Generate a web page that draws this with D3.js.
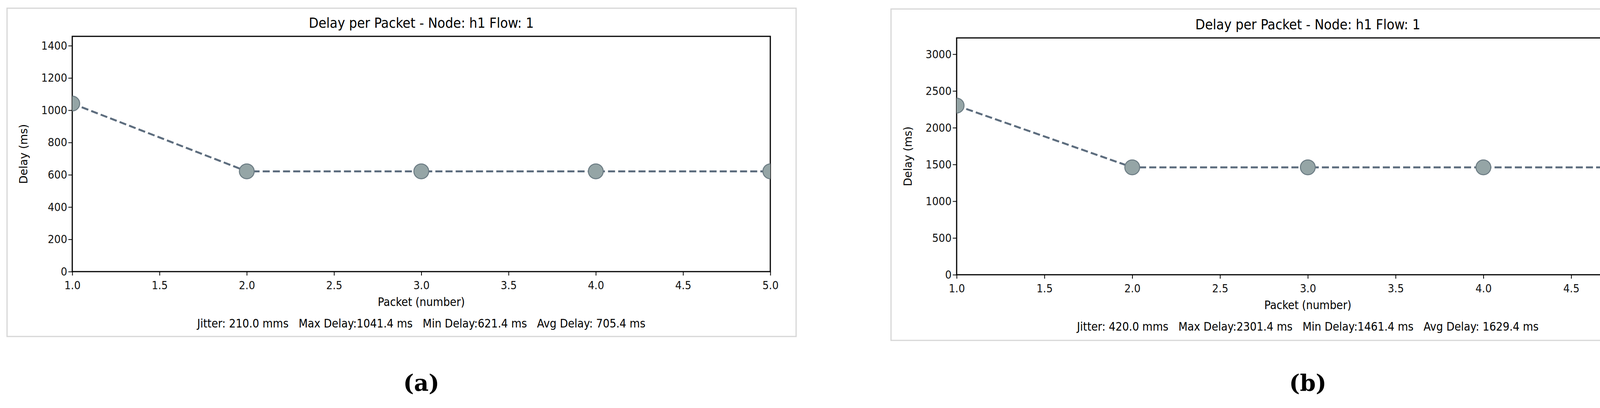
<!DOCTYPE html>
<html><head><meta charset="utf-8">
<script src="https://cdn.jsdelivr.net/npm/d3@7"></script>
<style>body{margin:0;background:#fff;overflow:hidden}text{font-family:"DejaVu Sans Condensed","DejaVu Sans",sans-serif}</style>
</head><body>
<svg width="4336" height="1044"></svg>
<script>
const packets = [1, 2, 3, 4, 5];
const delayA = [1041.4, 621.4, 621.4, 621.4, 621.4];
const delayB = [2301.4, 1461.4, 1461.4, 1461.4, 1461.4];
const ticksA = [0, 200, 400, 600, 800, 1000, 1200, 1400];
const ticksB = [0, 500, 1000, 1500, 2000, 2500, 3000];
const xTicks = [1.0, 1.5, 2.0, 2.5, 3.0, 3.5, 4.0, 4.5, 5.0];
const statsA = 'Jitter: 210.0 mms   Max Delay:1041.4 ms   Min Delay:621.4 ms   Avg Delay: 705.4 ms';
const statsB = 'Jitter: 420.0 mms   Max Delay:2301.4 ms   Min Delay:1461.4 ms   Avg Delay: 1629.4 ms';

const svg = d3.select('svg');

function panel(cfg) {
    const g = svg.append('g');
    // outer frame
    g.append('rect').attr('x', cfg.fx).attr('y', cfg.fy).attr('width', cfg.fw).attr('height', cfg.fh)
        .attr('fill', '#fff').attr('stroke', '#d6d6d6').attr('stroke-width', 3);

    const x = d3.scaleLinear().domain([1, 5]).range([cfg.l, cfg.r]);
    const y = d3.scaleLinear().domain([0, d3.max(cfg.data) * 1.4]).range([cfg.b, cfg.t]);

    const midX = (cfg.l + cfg.r) / 2;
    g.append('text').attr('x', midX).attr('y', cfg.t - 22).attr('text-anchor', 'middle')
        .attr('font-size', 36).text('Delay per Packet - Node: h1 Flow: 1');

    g.append('g').attr('transform', `translate(0,${cfg.b})`)
        .call(d3.axisBottom(x).tickValues(xTicks).tickFormat(d3.format('.1f')).tickSize(10))
        .call(a => a.selectAll('text').attr('font-size', 29).attr('dy', '1.1em'));
    g.append('g').attr('transform', `translate(${cfg.l},0)`)
        .call(d3.axisLeft(y).tickValues(cfg.ticks).tickFormat(d3.format('d')).tickSize(10))
        .call(a => a.selectAll('text').attr('font-size', 29));
    g.selectAll('.domain').remove();
    g.selectAll('.tick line').attr('stroke', '#000').attr('stroke-width', 2);
    g.selectAll('.tick text').attr('fill', '#111').style('font-family', '"DejaVu Sans Condensed","DejaVu Sans",sans-serif');
    g.append('rect').attr('x', cfg.l).attr('y', cfg.t).attr('width', cfg.r - cfg.l).attr('height', cfg.b - cfg.t)
        .attr('fill', 'none').attr('stroke', '#000').attr('stroke-width', 3);

    g.append('text').attr('x', midX).attr('y', cfg.b + 88).attr('text-anchor', 'middle')
        .attr('font-size', 30).text('Packet (number)');
    g.append('text').attr('transform', `translate(${cfg.l - 115},${(cfg.t + cfg.b) / 2}) rotate(-90)`)
        .attr('text-anchor', 'middle').attr('font-size', 28).style('font-family', '"DejaVu Sans",sans-serif')
        .text('Delay (ms)');
    g.append('text').attr('x', midX).attr('y', cfg.b + 143).attr('text-anchor', 'middle')
        .attr('font-size', 30).attr('xml:space', 'preserve').style('white-space', 'pre').text(cfg.stats);

    const clip = 'clip' + cfg.name;
    g.append('clipPath').attr('id', clip).append('rect')
        .attr('x', cfg.l).attr('y', cfg.t).attr('width', cfg.r - cfg.l).attr('height', cfg.b - cfg.t);
    const pts = packets.map((p, i) => [p, cfg.data[i]]);
    const plot = g.append('g').attr('clip-path', `url(#${clip})`);
    plot.append('path').datum(pts)
        .attr('d', d3.line().x(d => x(d[0])).y(d => y(d[1])))
        .attr('fill', 'none').attr('stroke', '#5d6d7e').attr('stroke-width', 5)
        .attr('stroke-dasharray', '18,8');
    plot.selectAll('circle').data(pts).enter().append('circle')
        .attr('cx', d => x(d[0])).attr('cy', d => y(d[1])).attr('r', 19)
        .attr('fill', '#95a5a6').attr('stroke', '#6b7b83').attr('stroke-width', 2.5);

    svg.append('text').attr('x', midX).attr('y', 1000).attr('text-anchor', 'middle')
        .attr('font-size', 58).attr('font-weight', 'bold')
        .style('font-family', '"DejaVu Serif","Liberation Serif",serif').text(cfg.caption);
}

panel({name: 'a', data: delayA, ticks: ticksA, stats: statsA, caption: '(a)',
    fx: 18, fy: 21, fw: 2020, fh: 840, l: 185, r: 1972, t: 93, b: 695});
panel({name: 'b', data: delayB, ticks: ticksB, stats: statsB, caption: '(b)',
    fx: 2281, fy: 23, fw: 2025, fh: 848, l: 2449, r: 4247, t: 97, b: 703});
</script>
</body></html>
